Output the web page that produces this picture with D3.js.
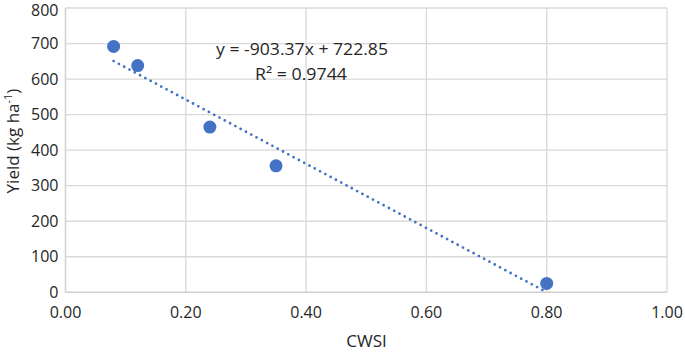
<!DOCTYPE html>
<html><head><meta charset="utf-8">
<script src="https://cdn.jsdelivr.net/npm/d3@7"></script>
<style>body{margin:0;background:#fff}svg{display:block}text{font-family:"Open Sans",sans-serif;fill:#262626}</style>
</head><body><svg id="c" width="685" height="352"></svg>
<script>
const cwsi = [0.08, 0.12, 0.24, 0.35, 0.80];
const yieldVals = [692, 638, 465, 356, 25];
const xTicks = [0, 0.2, 0.4, 0.6, 0.8, 1.0];
const yTicks = [0, 100, 200, 300, 400, 500, 600, 700, 800];
const slope = -903.37, intercept = 722.85;
const eqText = "y = -903.37x + 722.85";
const r2Text = "R² = 0.9744";

const svg = d3.select("#c");
const x = d3.scaleLinear().domain([0, 1]).range([65.5, 667]);
const y = d3.scaleLinear().domain([0, 800]).range([292.3, 8]);
const grid = "#d9d9d9";

svg.append("g").selectAll("line").data(yTicks.slice(1)).join("line")
  .attr("x1", x(0)).attr("x2", x(1)).attr("y1", d => y(d)).attr("y2", d => y(d))
  .attr("stroke", grid).attr("stroke-width", 1.3);
svg.append("g").selectAll("line").data(xTicks.slice(1)).join("line")
  .attr("y1", y(0)).attr("y2", y(800)).attr("x1", d => x(d)).attr("x2", d => x(d))
  .attr("stroke", grid).attr("stroke-width", 1.3);
svg.append("line").attr("x1", x(0)).attr("x2", x(0)).attr("y1", y(0)).attr("y2", y(800)).attr("stroke", "#d0d0d0").attr("stroke-width", 1.5);
svg.append("line").attr("x1", x(0)).attr("x2", x(1)).attr("y1", y(0)).attr("y2", y(0)).attr("stroke", "#d0d0d0").attr("stroke-width", 1.5);

svg.append("g").selectAll("text").data(yTicks).join("text")
  .attr("x", x(0) - 7).attr("y", d => Math.max(y(d), 10)).attr("dy", "0.35em").attr("text-anchor", "end")
  .attr("font-size", 16).text(d => d);
svg.append("g").selectAll("text").data(xTicks).join("text")
  .attr("x", d => x(d)).attr("y", y(0) + 26).attr("text-anchor", "middle")
  .attr("font-size", 16).text(d => d.toFixed(2));

// trendline
const x0 = d3.min(cwsi), x1 = d3.max(cwsi);
svg.append("line").attr("x1", x(x0)).attr("y1", y(slope * x0 + intercept))
  .attr("x2", x(x1)).attr("y2", y(slope * x1 + intercept))
  .attr("stroke", "#4472C4").attr("stroke-width", 2.8)
  .attr("stroke-dasharray", "0 6").attr("stroke-linecap", "round");

svg.append("g").selectAll("circle").data(cwsi).join("circle")
  .attr("cx", d => x(d)).attr("cy", (d, i) => y(yieldVals[i])).attr("r", 6.5)
  .attr("fill", "#4472C4");

svg.append("text").attr("x", 216).attr("y", 55).attr("font-size", 16)
  .attr("textLength", 172).attr("lengthAdjust", "spacingAndGlyphs").text(eqText);
svg.append("text").attr("x", 255).attr("y", 80).attr("font-size", 16)
  .attr("textLength", 92).attr("lengthAdjust", "spacingAndGlyphs").text(r2Text);

const yt = svg.append("text").attr("transform", "translate(19,141) rotate(-90)").attr("text-anchor", "middle").attr("font-size", 17);
yt.append("tspan").text("Yield (kg ha");
yt.append("tspan").attr("font-size", 11).attr("dy", -7).text("-1");
yt.append("tspan").attr("dy", 7).text(")");
svg.append("text").attr("x", 366.5).attr("y", 347).attr("text-anchor", "middle").attr("font-size", 17).text("CWSI");
</script></body></html>
